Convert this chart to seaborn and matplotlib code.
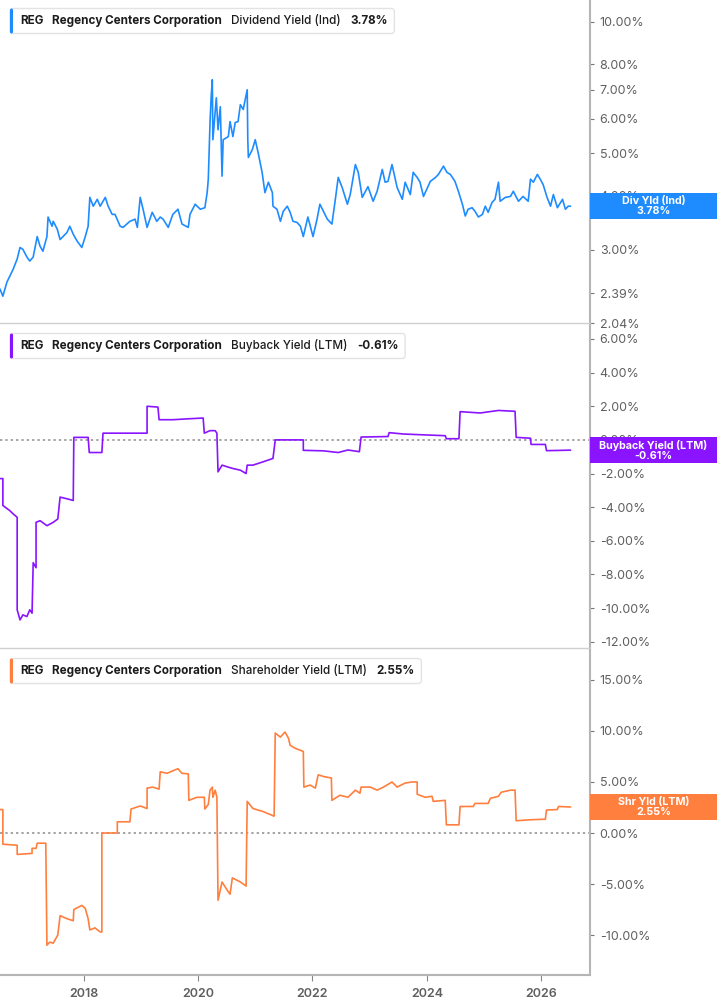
import matplotlib
matplotlib.use("Agg")
import matplotlib.pyplot as plt
import seaborn as sns
import pandas as pd
from matplotlib.patches import Rectangle, FancyBboxPatch
from matplotlib.transforms import IdentityTransform
from matplotlib.ticker import FixedLocator, FuncFormatter, NullLocator

# ---------------- data (decimal years, percent) ----------------
div_years = [2016.54, 2016.59, 2016.66, 2016.77, 2016.84, 2016.89, 2016.94, 2017.01, 2017.06, 2017.12,
             2017.19, 2017.24, 2017.29, 2017.36, 2017.38, 2017.45, 2017.47, 2017.54, 2017.59, 2017.71,
             2017.76, 2017.82, 2017.89, 2017.97, 2018.03, 2018.08, 2018.11, 2018.17, 2018.24, 2018.29,
             2018.38, 2018.43, 2018.50, 2018.55, 2018.64, 2018.69, 2018.81, 2018.90, 2018.94, 2018.99,
             2019.04, 2019.11, 2019.20, 2019.28, 2019.34, 2019.39, 2019.48, 2019.56, 2019.65, 2019.72,
             2019.83, 2019.86, 2019.95, 2020.04, 2020.12, 2020.16, 2020.18, 2020.21, 2020.23, 2020.25,
             2020.26, 2020.32, 2020.35, 2020.39, 2020.42, 2020.44, 2020.53, 2020.56, 2020.61, 2020.65,
             2020.70, 2020.74, 2020.79, 2020.86, 2020.87, 2020.88, 2020.95, 2021.00, 2021.05, 2021.12,
             2021.17, 2021.23, 2021.30, 2021.31, 2021.38, 2021.44, 2021.49, 2021.56, 2021.61, 2021.66,
             2021.73, 2021.79, 2021.84, 2021.92, 2022.01, 2022.08, 2022.13, 2022.26, 2022.34, 2022.40,
             2022.45, 2022.52, 2022.61, 2022.66, 2022.75, 2022.80, 2022.87, 2022.97, 2023.06, 2023.13,
             2023.22, 2023.27, 2023.32, 2023.39, 2023.48, 2023.57, 2023.62, 2023.71, 2023.76, 2023.83,
             2023.88, 2023.94, 2024.01, 2024.06, 2024.15, 2024.20, 2024.29, 2024.35, 2024.41, 2024.49,
             2024.55, 2024.62, 2024.67, 2024.72, 2024.79, 2024.84, 2024.90, 2024.97, 2025.02, 2025.07,
             2025.14, 2025.19, 2025.25, 2025.28, 2025.37, 2025.46, 2025.51, 2025.60, 2025.68, 2025.77,
             2025.81, 2025.86, 2025.93, 2025.98, 2026.03, 2026.10, 2026.16, 2026.21, 2026.28, 2026.37,
             2026.42, 2026.47, 2026.51]
div_values = [2.44, 2.35, 2.53, 2.71, 2.86, 3.04, 3.01, 2.89, 2.83, 2.89,
              3.22, 3.06, 2.98, 3.22, 3.57, 3.40, 3.49, 3.35, 3.17, 3.29,
              3.40, 3.26, 3.14, 3.04, 3.22, 3.40, 3.96, 3.78, 3.92, 3.78,
              3.96, 3.78, 3.62, 3.62, 3.40, 3.38, 3.49, 3.53, 3.38, 3.96,
              3.72, 3.38, 3.66, 3.49, 3.57, 3.53, 3.38, 3.62, 3.72, 3.44,
              3.38, 3.62, 3.82, 3.72, 3.75, 4.06, 4.36, 5.88, 6.73, 7.37,
              5.37, 6.70, 5.66, 6.39, 4.43, 5.37, 5.46, 5.91, 5.46, 5.88,
              5.91, 6.46, 6.30, 6.99, 5.37, 4.89, 5.10, 5.37, 5.02, 4.52,
              4.06, 4.29, 4.06, 3.78, 3.72, 3.49, 3.68, 3.78, 3.66, 3.49,
              3.47, 3.40, 3.22, 3.57, 3.22, 3.53, 3.82, 3.53, 3.44, 3.92,
              4.40, 4.17, 3.82, 4.02, 4.71, 4.52, 3.96, 4.19, 3.88, 4.09,
              4.59, 4.29, 4.31, 4.71, 4.17, 3.92, 4.29, 4.02, 4.52, 4.40,
              4.29, 3.98, 4.17, 4.31, 4.40, 4.47, 4.67, 4.52, 4.47, 4.31,
              4.09, 3.82, 3.59, 3.72, 3.75, 3.68, 3.57, 3.62, 3.78, 3.66,
              3.86, 3.92, 4.29, 3.88, 3.96, 3.98, 4.09, 3.88, 3.98, 3.88,
              4.36, 4.29, 4.47, 4.36, 4.24, 3.96, 3.78, 4.02, 3.75, 3.92,
              3.72, 3.78, 3.78]

buy_years = [2016.54, 2016.59, 2016.59, 2016.71, 2016.77, 2016.84, 2016.84, 2016.89, 2016.94, 2017.01,
             2017.06, 2017.10, 2017.12, 2017.17, 2017.17, 2017.24, 2017.36, 2017.47, 2017.55, 2017.59,
             2017.71, 2017.82, 2017.83, 2018.08, 2018.10, 2018.32, 2018.34, 2019.11, 2019.11, 2019.30,
             2019.32, 2019.56, 2019.81, 2020.09, 2020.11, 2020.21, 2020.30, 2020.33, 2020.35, 2020.42,
             2020.51, 2020.61, 2020.74, 2020.84, 2020.86, 2020.96, 2021.14, 2021.31, 2021.35, 2021.84,
             2021.84, 2022.19, 2022.45, 2022.62, 2022.82, 2022.85, 2023.32, 2023.34, 2023.59, 2023.94,
             2024.32, 2024.34, 2024.56, 2024.58, 2024.93, 2025.25, 2025.54, 2025.56, 2025.81, 2025.82,
             2026.07, 2026.09, 2026.51]
buy_values = [-2.3, -2.3, -3.9, -4.2, -4.4, -4.6, -10.1, -10.7, -10.4, -10.5,
              -10.1, -10.3, -7.3, -7.6, -4.9, -4.8, -5.1, -4.9, -4.7, -3.4,
              -3.5, -3.6, 0.15, 0.15, -0.75, -0.75, 0.4, 0.4, 2.0, 1.95,
              1.2, 1.2, 1.25, 1.3, 0.4, 0.55, 0.55, 0.4, -1.9, -1.5,
              -1.6, -1.7, -1.8, -2.0, -1.5, -1.5, -1.3, -1.1, 0.0, 0.0,
              -0.62, -0.65, -0.75, -0.6, -0.7, 0.17, 0.2, 0.43, 0.35, 0.3,
              0.25, 0.07, 0.07, 1.68, 1.6, 1.75, 1.7, 0.15, 0.1, -0.27,
              -0.27, -0.64, -0.61]

shr_years = [2016.54, 2016.59, 2016.59, 2016.84, 2016.84, 2017.10, 2017.10, 2017.17, 2017.19, 2017.34,
             2017.36, 2017.41, 2017.47, 2017.55, 2017.59, 2017.71, 2017.82, 2017.83, 2017.97, 2018.03,
             2018.08, 2018.11, 2018.20, 2018.29, 2018.32, 2018.32, 2018.59, 2018.59, 2018.81, 2018.83,
             2018.99, 2019.11, 2019.11, 2019.21, 2019.32, 2019.34, 2019.46, 2019.56, 2019.65, 2019.72,
             2019.83, 2019.84, 2019.98, 2020.11, 2020.12, 2020.18, 2020.21, 2020.25, 2020.26, 2020.30,
             2020.33, 2020.35, 2020.42, 2020.51, 2020.56, 2020.60, 2020.74, 2020.84, 2020.86, 2020.96,
             2021.14, 2021.33, 2021.35, 2021.44, 2021.52, 2021.58, 2021.61, 2021.70, 2021.79, 2021.84,
             2021.85, 2021.96, 2022.05, 2022.10, 2022.22, 2022.33, 2022.34, 2022.48, 2022.62, 2022.75,
             2022.83, 2022.85, 2023.01, 2023.13, 2023.24, 2023.39, 2023.48, 2023.62, 2023.74, 2023.83,
             2023.83, 2023.97, 2024.09, 2024.11, 2024.32, 2024.34, 2024.56, 2024.58, 2024.81, 2024.84,
             2025.07, 2025.11, 2025.25, 2025.30, 2025.46, 2025.54, 2025.56, 2025.81, 2026.07, 2026.09,
             2026.28, 2026.30, 2026.51]
shr_values = [2.3, 2.3, -1.1, -1.2, -2.1, -2.0, -1.5, -1.5, -1.0, -1.0,
              -11.0, -10.7, -10.8, -10.0, -8.1, -8.4, -8.6, -7.5, -7.1, -7.4,
              -8.4, -9.5, -9.3, -9.7, -9.7, 0.0, 0.0, 1.1, 1.1, 2.35,
              2.65, 2.4, 4.4, 4.5, 4.3, 6.0, 5.85, 6.1, 6.3, 5.85,
              5.8, 3.2, 3.5, 3.5, 2.35, 2.8, 4.2, 4.5, 3.5, 4.2,
              3.5, -6.6, -4.8, -5.6, -6.0, -4.4, -4.8, -5.2, 3.1, 2.4,
              2.1, 1.65, 9.8, 9.4, 9.9, 9.3, 8.6, 8.3, 8.1, 8.0,
              4.5, 4.7, 4.4, 5.7, 5.5, 5.4, 3.2, 3.7, 3.5, 4.2,
              3.9, 4.5, 4.5, 4.2, 4.5, 5.0, 4.5, 4.9, 5.0, 5.0,
              3.8, 3.5, 3.6, 3.1, 3.2, 0.8, 0.8, 2.6, 2.6, 2.9,
              2.9, 3.4, 3.6, 4.0, 4.2, 4.2, 1.2, 1.3, 1.35, 2.25,
              2.3, 2.6, 2.55]

div_ticks = [2.04, 2.39, 3, 4, 5, 6, 7, 8, 10]
buy_ticks = [-12, -10, -8, -6, -4, -2, 0, 2, 4, 6]
shr_ticks = [-10, -5, 0, 5, 10, 15]
year_ticks = [2018, 2020, 2022, 2024, 2026]

ticker = "REG"
company = "Regency Centers Corporation"
metric_names = ["Dividend Yield (Ind)", "Buyback Yield (LTM)", "Shareholder Yield (LTM)"]
badge_names = ["Div Yld (Ind)", "Buyback Yield (LTM)", "Shr Yld (LTM)"]
last_values = [3.78, -0.61, 2.55]

# ---------------- style ----------------
sns.set_theme(style="white")
plt.rcParams['font.family'] = ['Inter', 'DejaVu Sans']

W, H = 717, 1005
fig = plt.figure(figsize=(W / 100, H / 100), dpi=100)

BLUE = "#1E8CFF"
PURPLE = "#8A14FF"
ORANGE = "#FF7F3F"
SPINE = "#b5b5b5"
SEP = "#cfcfcf"
TICKC = "#5f5f5f"

RIGHT = 590

def rect(top, bottom):
    return [0, 1 - bottom / H, RIGHT / W, (bottom - top) / H]

panels = [
    dict(top=0, bottom=323, years=div_years, values=div_values, color=BLUE,
         ylim=(2.04, 11.23), ticks=div_ticks, log=True, zero=False),
    dict(top=325, bottom=648, years=buy_years, values=buy_values, color=PURPLE,
         ylim=(-12.37, 6.83), ticks=buy_ticks, log=False, zero=True),
    dict(top=650, bottom=975, years=shr_years, values=shr_values, color=ORANGE,
         ylim=(-13.92, 17.94), ticks=shr_ticks, log=False, zero=True),
]

XLIM = (2016.54, 2026.85)
axes = []
for i, p in enumerate(panels):
    ax = fig.add_axes(rect(p["top"], p["bottom"]))
    df = pd.DataFrame({"year": p["years"], "value": p["values"]})
    if p["zero"]:
        ax.axhline(0, color="#8a8a8a", lw=1.1, ls=(0, (1.5, 2.0)), zorder=1)
    sns.lineplot(data=df, x="year", y="value", ax=ax, color=p["color"], lw=1.2,
                 estimator=None, sort=False, zorder=3)
    if p["log"]:
        ax.set_yscale("log")
    ax.set_ylim(*p["ylim"])
    ax.set_xlim(*XLIM)
    ax.yaxis.set_major_locator(FixedLocator(p["ticks"]))
    ax.yaxis.set_minor_locator(NullLocator())
    ax.yaxis.set_major_formatter(FuncFormatter(lambda v, pos: f"{v:.2f}%"))
    ax.yaxis.tick_right()
    ax.tick_params(axis="y", which="both", direction="out", length=3, width=0.8,
                   color="#777777", labelcolor=TICKC, labelsize=9, pad=4, left=False, right=True)
    ax.set_xlabel("")
    ax.set_ylabel("")
    ax.grid(False)
    for s in ["left", "top"]:
        ax.spines[s].set_visible(False)
    ax.spines["right"].set_color(SPINE)
    ax.spines["right"].set_linewidth(1.5)
    ax.xaxis.set_major_locator(FixedLocator(year_ticks))
    if i < 2:
        ax.spines["bottom"].set_color(SEP)
        ax.spines["bottom"].set_linewidth(1.0)
        ax.tick_params(axis="x", bottom=False, labelbottom=False)
    else:
        ax.spines["bottom"].set_color(SPINE)
        ax.spines["bottom"].set_linewidth(1.5)
        ax.tick_params(axis="x", bottom=True, direction="out", length=4, width=0.8,
                       color="#888888", labelcolor=TICKC, labelsize=9, pad=5)
        ax.xaxis.set_major_formatter(FuncFormatter(lambda v, pos: f"{int(v)}"))
        for lab in ax.get_xticklabels():
            lab.set_fontweight("semibold")
    ax.set_facecolor("white")
    axes.append(ax)

fig.canvas.draw()
renderer = fig.canvas.get_renderer()
ident = IdentityTransform()

# ---------------- legends ----------------
for i, p in enumerate(panels):
    yc = H - (p["top"] + 21)  # display y (bottom origin)
    pieces = [(ticker, "bold"), (company, "bold"), (metric_names[i], "medium"),
              (f"{last_values[i]:.2f}%", "bold")]
    x = 20
    for txt, wt in pieces:
        t = fig.text(x / W, yc / H, txt, fontsize=8.4, fontweight=wt, color="#1c1c1c",
                     va="center", ha="left", zorder=6)
        bb = t.get_window_extent(renderer)
        x = bb.x1 + 9
    right = x - 9 + 7
    box = FancyBboxPatch((10, yc - 12.5), right - 10, 25,
                         boxstyle="round,pad=0,rounding_size=3", transform=ident,
                         fc="white", ec="#e3e3e3", lw=1.0, zorder=5)
    fig.patches.append(box)
    bar = FancyBboxPatch((10, yc - 12.5), 3, 25, boxstyle="round,pad=0,rounding_size=1.5",
                         transform=ident, fc=p["color"], ec="none", zorder=5.5)
    fig.patches.append(bar)

# ---------------- value badges ----------------
for i, (ax, p) in enumerate(zip(axes, panels)):
    ydisp = ax.transData.transform((XLIM[0], last_values[i]))[1]
    badge = Rectangle((RIGHT, ydisp - 13), W - RIGHT, 26, transform=ident,
                      fc=p["color"], ec="none", zorder=7)
    fig.patches.append(badge)
    fig.text((RIGHT + (W - RIGHT) / 2) / W, ydisp / H,
             f"{badge_names[i]}\n{last_values[i]:.2f}%", color="white", fontsize=7.7,
             fontweight="bold", ha="center", va="center", linespacing=1.0, zorder=8)

fig.savefig("out.png", dpi=100, facecolor="white")
